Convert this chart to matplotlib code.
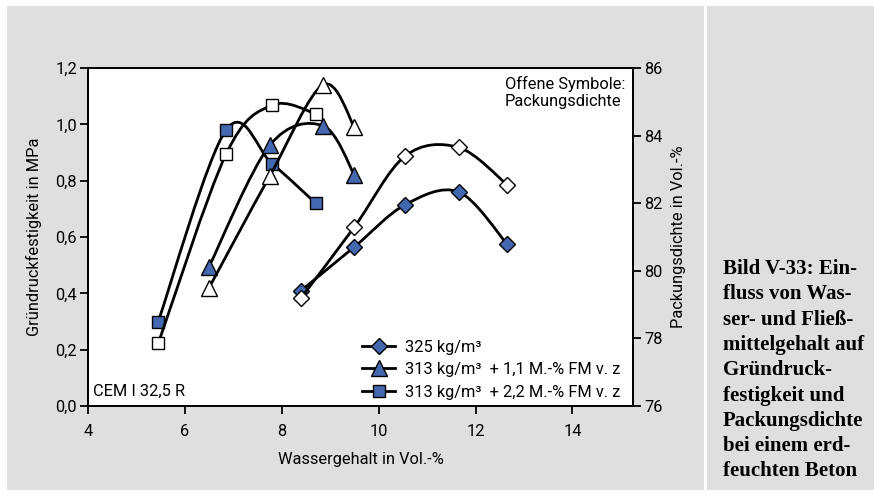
import numpy as np
import matplotlib
matplotlib.use('Agg')
import matplotlib.pyplot as plt
from matplotlib.path import Path
from matplotlib.patches import PathPatch, Rectangle
from matplotlib.lines import Line2D
from matplotlib.ticker import FuncFormatter

plt.rcParams['font.family'] = ['Roboto', 'DejaVu Sans']

# Wassergehalt (x) and measured values
x_325 = [8.4, 9.5, 10.55, 11.65, 12.65]
fest_325 = [0.41, 0.565, 0.715, 0.76, 0.575]
dichte_325 = [79.2, 81.3, 83.4, 83.65, 82.55]

x_fm11 = [6.5, 7.75, 8.85, 9.5]
fest_fm11 = [0.495, 0.925, 0.995, 0.82]
dichte_fm11 = [79.5, 82.8, 85.5, 84.25]

x_fm22 = [5.45, 6.85, 7.8, 8.7]
fest_fm22 = [0.30, 0.98, 0.86, 0.72]
dichte_fm22 = [77.85, 83.45, 84.9, 84.65]

labels = ['325 kg/m³', '313 kg/m³  + 1,1 M.-% FM v. z', '313 kg/m³  + 2,2 M.-% FM v. z']
markers = ['D', '^', 's']
msizes = [8, 11, 8.5]

caption = ['Bild V-33: Ein-', 'fluss von Was-', 'ser- und Fließ-', 'mittelgehalt auf',
           'Gründruck-', 'festigkeit und', 'Packungsdichte', 'bei einem erd-',
           'feuchten Beton']

blue = '#4468b0'
gray = '#dfdfdf'
fs = 11.8


def smooth_path(x, y):
    # smoothed line like a spreadsheet chart (Catmull-Rom as cubic Bezier)
    p = np.column_stack([x, y]).astype(float)
    n = len(p)
    verts = [p[0]]
    codes = [Path.MOVETO]
    for i in range(n - 1):
        p0 = p[max(i - 1, 0)]
        p1 = p[i]
        p2 = p[i + 1]
        p3 = p[min(i + 2, n - 1)]
        verts += [p1 + (p2 - p0) / 6, p2 - (p3 - p1) / 6, p2]
        codes += [Path.CURVE4] * 3
    return Path(verts, codes)


fig = plt.figure(figsize=(8.74, 4.97), dpi=100, facecolor='white')
W, H = 874, 497
fig.patches.append(Rectangle((7 / W, 7 / H), 697 / W, 484 / H, transform=fig.transFigure,
                             facecolor=gray, edgecolor='none', zorder=-10))
fig.patches.append(Rectangle((707 / W, 7 / H), 167 / W, 484 / H, transform=fig.transFigure,
                             facecolor=gray, edgecolor='none', zorder=-10))

ax = fig.add_axes([88 / W, 1 - 406 / H, 545 / W, 338 / H])
ax2 = ax.twinx()
ax.set_facecolor('white')

series = [(x_325, fest_325, dichte_325), (x_fm11, fest_fm11, dichte_fm11),
          (x_fm22, fest_fm22, dichte_fm22)]

for (xs, fs_, ds), m, ms in zip(series, markers, msizes):
    ax.add_patch(PathPatch(smooth_path(xs, fs_), fill=False, lw=2, ec='black', zorder=2))
    ax.plot(xs, fs_, ls='none', marker=m, ms=ms, mfc=blue, mec='black', mew=1, zorder=3)
    ax2.add_patch(PathPatch(smooth_path(xs, ds), fill=False, lw=2, ec='black', zorder=2))
    ax2.plot(xs, ds, ls='none', marker=m, ms=ms, mfc='white', mec='black', mew=1, zorder=3)

ax.set_xlim(4, 15.25)
ax.set_ylim(0, 1.2)
ax2.set_ylim(76, 86)
ax.set_xticks([4, 6, 8, 10, 12, 14])
ax.set_yticks(np.arange(0, 1.21, 0.2))
ax2.set_yticks([76, 78, 80, 82, 84, 86])
ax.yaxis.set_major_formatter(FuncFormatter(lambda v, p: f'{v:.1f}'.replace('.', ',')))

for a in (ax, ax2):
    for s in a.spines.values():
        s.set_linewidth(1.3)
ax.tick_params(axis='both', direction='out', length=6, width=1.3, labelsize=fs, pad=2)
ax.tick_params(axis='x', pad=7)
ax2.tick_params(axis='y', direction='out', length=6, width=1.3, labelsize=fs, pad=2)

ax.set_xlabel('Wassergehalt in Vol.-%', fontsize=fs, labelpad=9)
ax.set_ylabel('Gründruckfestigkeit in MPa', fontsize=fs)
ax.yaxis.set_label_coords(-0.085, 0.5)
ax2.set_ylabel('Packungsdichte in Vol.-%', fontsize=fs, rotation=90)
ax2.yaxis.set_label_coords(1.07, 0.5)

ax.text(0.765, 0.975, 'Offene Symbole:\nPackungsdichte', transform=ax.transAxes,
        fontsize=fs, va='top', ha='left', linespacing=1.1)
ax.text(0.01, 0.02, 'CEM I 32,5 R', transform=ax.transAxes, fontsize=fs,
        va='bottom', ha='left')

handles = [Line2D([], [], color='black', lw=2, marker=m, ms=ms, mfc=blue, mec='black')
           for m, ms in zip(markers, msizes)]
ax2.legend(handles, labels, loc='lower left', bbox_to_anchor=(0.485, -0.01), frameon=False,
           fontsize=fs, handlelength=2.0, handletextpad=0.6, labelspacing=0.45,
           borderaxespad=0.2)

for i, line in enumerate(caption):
    fig.text(723 / W, 1 - (274 + i * 25.3) / H, line, fontfamily='Liberation Serif',
             fontweight='bold', fontsize=15, va='baseline', ha='left')

fig.savefig('out.png', dpi=100, facecolor='white')
